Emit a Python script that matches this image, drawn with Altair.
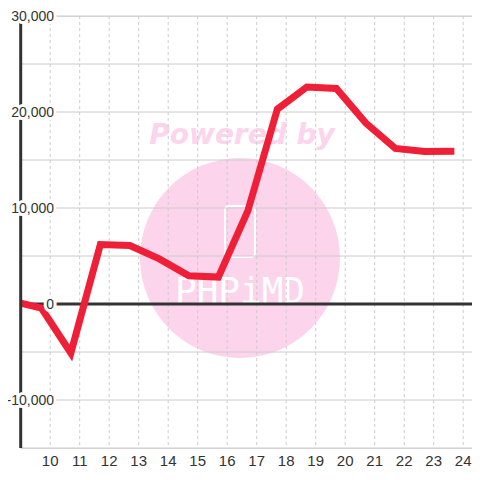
import altair as alt
import pandas as pd

# ---- data ----
hours = [9.0, 9.7, 10.7, 11.7, 12.7, 13.7, 14.7, 15.7, 16.7, 17.7, 18.7, 19.7, 20.7, 21.7, 22.7, 23.7]
values = [100, -420, -5100, 6200, 6100, 4700, 2950, 2800, 9700, 20300, 22600, 22450, 18850, 16200, 15880, 15900]
x_ticks = list(range(10, 25))
x_tick_labels = [str(t) for t in x_ticks]
y_grid = list(range(-15000, 30001, 5000))
y_label_vals = [30000, 20000, 10000, 0, -10000]
y_label_text = ["30,000", "20,000", "10,000", "0", "-10,000"]

RED = "#ee1f36"
PINK = "#fcd5ec"
GRID = "#cccccc"
DARK = "#333333"
LEFT = 12.7
W, H = 464 - LEFT, 432
PX_PER_UNIT = 29.5

xs = alt.Scale(domain=[9, 9 + W / PX_PER_UNIT], nice=False, zero=False)
ys = alt.Scale(domain=[-15000, 30000], nice=False, zero=False)

line_df = pd.DataFrame({"h": hours, "v": values})
xt_df = pd.DataFrame({"h": x_ticks, "label": x_tick_labels})
yg_df = pd.DataFrame({"v": y_grid})
yl_df = pd.DataFrame({"v": y_label_vals, "label": y_label_text})
one = pd.DataFrame({"a": [0]})

# watermark (decoration)
circle = alt.Chart(one).mark_circle(size=40000, color=PINK, opacity=1).encode(
    x=alt.value(240 - 8 - LEFT), y=alt.value(258 - 16)
)
powered = alt.Chart(one).mark_text(
    text="Powered by", font="DejaVu Sans", fontSize=28, fontWeight="bold",
    fontStyle="italic", color=PINK, align="center", baseline="alphabetic"
).encode(x=alt.value(242 - 8 - LEFT), y=alt.value(144 - 16))
logo_box = alt.Chart(one).mark_rect(
    fillOpacity=0, stroke="white", strokeWidth=2, cornerRadius=4
).encode(
    x=alt.value(225 - 8 - LEFT), x2=alt.value(255 - 8 - LEFT),
    y=alt.value(206 - 16), y2=alt.value(257 - 16)
)
logo_text = alt.Chart(one).mark_text(
    text="PHPiMD", font="DejaVu Sans Mono", fontSize=36, color="white",
    align="center", baseline="alphabetic"
).encode(x=alt.value(240 - 8 - LEFT), y=alt.value(303 - 16))

# grid
hgrid = alt.Chart(yg_df).mark_rule(color=GRID, strokeWidth=1).encode(
    y=alt.Y("v:Q", scale=ys, axis=None), x=alt.value(0), x2=alt.value(W)
)
vgrid = alt.Chart(xt_df).mark_rule(color=GRID, strokeWidth=1, strokeDash=[3, 3]).encode(
    x=alt.X("h:Q", scale=xs, axis=None), y=alt.value(0), y2=alt.value(H)
)
zero = alt.Chart(pd.DataFrame({"v": [0]})).mark_rule(color=DARK, strokeWidth=3).encode(
    y=alt.Y("v:Q", scale=ys, axis=None), x=alt.value(0), x2=alt.value(W)
)
yaxis = alt.Chart(one).mark_rule(color=DARK, strokeWidth=3).encode(
    x=alt.value(0), y=alt.value(0), y2=alt.value(H)
)

line = alt.Chart(line_df).mark_line(color=RED, strokeWidth=7).encode(
    x=alt.X("h:Q", scale=xs, axis=None), y=alt.Y("v:Q", scale=ys, axis=None)
)

LBL_X = 54 - 8 - LEFT
ylab_halo = alt.Chart(yl_df).mark_text(
    font="Liberation Sans", fontSize=14, align="right", baseline="alphabetic",
    dy=5, color="white", stroke="white", strokeWidth=6, strokeJoin="round"
).encode(y=alt.Y("v:Q", scale=ys, axis=None), x=alt.value(LBL_X), text="label:N")
ylab = alt.Chart(yl_df).mark_text(
    font="Liberation Sans", fontSize=14, align="right", baseline="alphabetic",
    dy=5, color=DARK
).encode(y=alt.Y("v:Q", scale=ys, axis=None), x=alt.value(LBL_X), text="label:N")

xlab = alt.Chart(xt_df).mark_text(
    font="Liberation Sans", fontSize=15, align="center", baseline="alphabetic", color=DARK
).encode(x=alt.X("h:Q", scale=xs, axis=None), y=alt.value(466 - 16), text="label:N")

chart = alt.layer(
    circle, powered, logo_box, logo_text, hgrid, vgrid, zero, line, yaxis,
    ylab_halo, ylab, xlab
).properties(
    width=W, height=H,
    autosize=alt.AutoSizeParams(type="none"),
    padding={"left": LEFT, "top": 8, "right": 0, "bottom": 24},
).configure_view(stroke=None).configure(background="white")

chart.save("out.html", embed_options={"renderer": "svg", "actions": False})
